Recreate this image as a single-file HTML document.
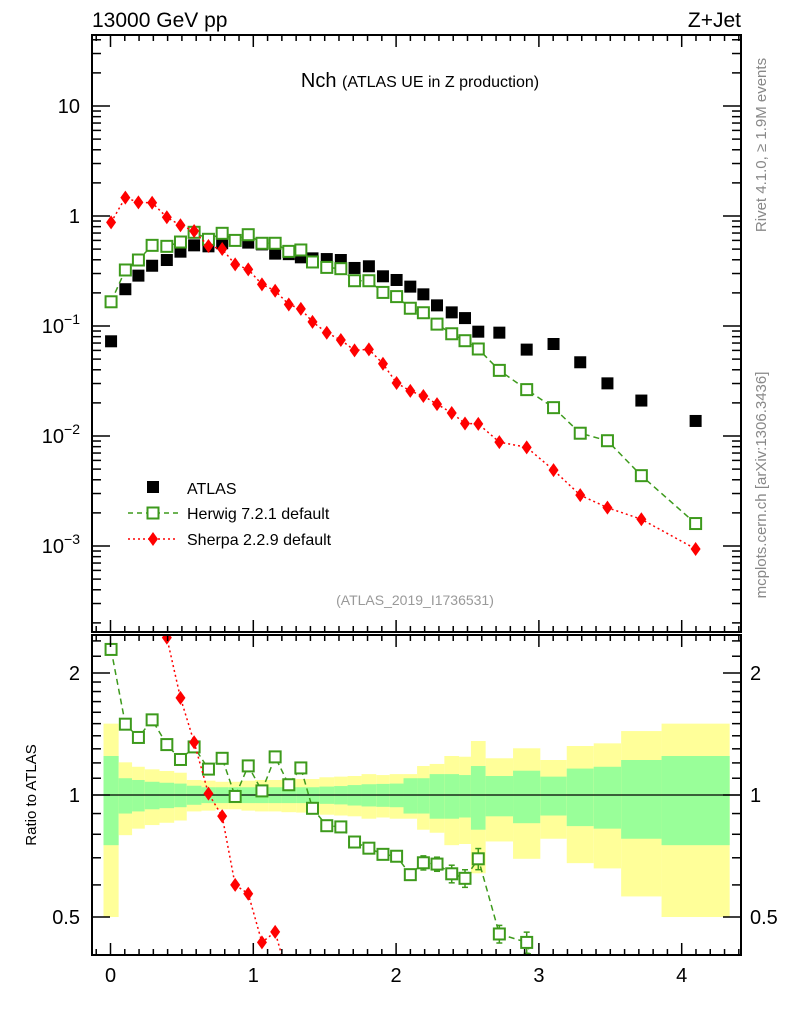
<!DOCTYPE html>
<html><head><meta charset="utf-8">
<style>
html,body{margin:0;padding:0;background:#fff;width:786px;height:1024px;overflow:hidden;}
svg{display:block;font-family:"Liberation Sans",sans-serif;}
</style></head>
<body>
<svg id="chart" width="786" height="1024" viewBox="0 0 786 1024" xmlns="http://www.w3.org/2000/svg">
<text x="92" y="27" font-size="21">13000 GeV pp</text>
<text x="741" y="27" font-size="21" text-anchor="end">Z+Jet</text>
<text x="420" y="87" font-size="20" text-anchor="middle">Nch <tspan font-size="16">(ATLAS UE in Z production)</tspan></text>
<text transform="translate(766,145) rotate(-90)" font-size="15" fill="#888" text-anchor="middle">Rivet 4.1.0, ≥ 1.9M events</text>
<text transform="translate(766,485) rotate(-90)" font-size="15" fill="#888" text-anchor="middle">mcplots.cern.ch [arXiv:1306.3436]</text>
<text x="415" y="605" font-size="14" fill="#999" text-anchor="middle">(ATLAS_2019_I1736531)</text>
<text transform="translate(36,795) rotate(-90)" font-size="15" text-anchor="middle">Ratio to ATLAS</text>
<g id="band"></g><g id="marks"></g><g id="axes"></g>
<g>
<rect x="147" y="481" width="12" height="12" fill="#000"/>
<text x="187" y="494" font-size="16">ATLAS</text>
<line x1="128" y1="513" x2="178" y2="513" stroke="#3d9a1c" stroke-width="1.5" stroke-dasharray="5,4"/>
<rect x="147.5" y="507.5" width="11" height="11" fill="#fff" stroke="#3d9a1c" stroke-width="2"/>
<text x="187" y="519" font-size="16">Herwig 7.2.1 default</text>
<line x1="128" y1="539" x2="178" y2="539" stroke="#f00" stroke-width="1.5" stroke-dasharray="2,3"/>
<path d="M153,532 L158,539 L153,546 L148,539 Z" fill="#f00"/>
<text x="187" y="545" font-size="16">Sherpa 2.2.9 default</text>
</g>
</svg>
<script>
const binEdges=[-0.049,0.057,0.151,0.24,0.343,0.446,0.534,0.637,0.735,0.829,0.917,1.012,1.109,1.197,1.30,1.366,1.463,1.566,1.66,1.758,1.861,1.955,2.052,2.147,2.235,2.338,2.441,2.524,2.627,2.819,3.01,3.195,3.384,3.576,3.859,4.336];
const atlas=[0.0726,0.216,0.287,0.353,0.398,0.474,0.541,0.53,0.565,0.605,0.573,0.552,0.455,0.45,0.421,0.412,0.406,0.398,0.337,0.349,0.283,0.262,0.228,0.194,0.154,0.133,0.118,0.0888,0.087,0.061,0.0686,0.0468,0.0301,0.021,0.0137];
const herwig=[0.166,0.323,0.398,0.541,0.53,0.58,0.711,0.614,0.696,0.6,0.676,0.565,0.565,0.477,0.491,0.382,0.341,0.332,0.258,0.258,0.202,0.185,0.145,0.132,0.104,0.085,0.0735,0.0618,0.0395,0.0264,0.0181,0.0106,0.00906,0.00436,0.0016];
const sherpa=[0.875,1.47,1.33,1.32,0.973,0.823,0.73,0.534,0.501,0.363,0.327,0.239,0.209,0.157,0.143,0.109,0.0869,0.0746,0.0601,0.0613,0.0454,0.0303,0.0257,0.0231,0.0195,0.0162,0.013,0.0129,0.0088,0.00789,0.0049,0.0029,0.00223,0.00175,0.00094];
const errTot=[0.5,0.204,0.174,0.157,0.146,0.135,0.089,0.085,0.078,0.078,0.085,0.089,0.089,0.093,0.095,0.095,0.106,0.11,0.114,0.126,0.12,0.126,0.126,0.179,0.193,0.248,0.243,0.359,0.232,0.304,0.22,0.321,0.341,0.438,0.5];
const errStat=[0.248,0.10,0.089,0.078,0.072,0.067,0.054,0.045,0.045,0.045,0.045,0.045,0.045,0.045,0.045,0.045,0.049,0.052,0.058,0.063,0.065,0.067,0.10,0.10,0.126,0.126,0.12,0.179,0.114,0.148,0.11,0.162,0.174,0.22,0.248];
const mcErr=[0.01,0.01,0.01,0.01,0.01,0.01,0.01,0.01,0.01,0.01,0.01,0.01,0.01,0.01,0.01,0.01,0.015,0.015,0.02,0.02,0.025,0.03,0.03,0.04,0.04,0.05,0.05,0.06,0.05,0.06,0.08,0.1,0.12,0.12,0.12];
const xTicks=[0,1,2,3,4];
const mainYTicks=[1,0,-1,-2,-3];
const ratioTicks=[2,1,0.5];

const NS='http://www.w3.org/2000/svg';
const L=92,R=741,MT=35,MB=632,RT=635,RB=955;
const X=v=>110.5+142.8*v;
const YM=v=>216-110*Math.log10(v);
const YR=v=>795-122*Math.log2(v);
function el(tag,attrs,parent){const e=document.createElementNS(NS,tag);for(const k in attrs)e.setAttribute(k,attrs[k]);parent.appendChild(e);return e;}
const band=document.getElementById('band'),marks=document.getElementById('marks'),axes=document.getElementById('axes');
const centers=atlas.map((_,i)=>(binEdges[i]+binEdges[i+1])/2);
const clipR=v=>Math.max(RT,Math.min(RB,v));

for(let i=0;i<atlas.length;i++){
  const x0=X(binEdges[i]),x1=X(binEdges[i+1]);
  const y=el('rect',{x:x0,width:x1-x0,y:clipR(YR(1+errTot[i])),height:clipR(YR(1-errTot[i]))-clipR(YR(1+errTot[i])),fill:'#ffff99'},band);
  
  
  const g=el('rect',{x:x0,width:x1-x0,y:clipR(YR(1+errStat[i])),height:clipR(YR(1-errStat[i]))-clipR(YR(1+errStat[i])),fill:'#99ff99'},band);
  
  
}
el('line',{x1:L,x2:R,y1:YR(1),y2:YR(1),stroke:'#000','stroke-width':1.2},band);

const defs=el('defs',{},marks);
const cp1=el('clipPath',{id:'cm'},defs);el('rect',{x:L,y:MT,width:R-L,height:MB-MT},cp1);
const cp2=el('clipPath',{id:'cr'},defs);el('rect',{x:L,y:RT,width:R-L,height:RB-RT},cp2);
const gm=el('g',{'clip-path':'url(#cm)'},marks);
const gr=el('g',{'clip-path':'url(#cr)'},marks);

function series(vals,color,dash,kind,name){
  const ptsM=vals.map((v,i)=>X(centers[i])+','+YM(v)).join(' ');
  const lm=el('polyline',{points:ptsM,fill:'none',stroke:color,'stroke-width':1.5,'stroke-dasharray':dash},gm);
  
  
  const rat=vals.map((v,i)=>v/atlas[i]);
  const ptsR=rat.map((v,i)=>X(centers[i])+','+YR(v)).join(' ');
  const lr=el('polyline',{points:ptsR,fill:'none',stroke:color,'stroke-width':1.5,'stroke-dasharray':dash},gr);
  
  
  vals.forEach((v,i)=>{
    [[gm,YM(v),YM(v*(1+mcErr[i])),YM(v*(1-mcErr[i]))],[gr,YR(rat[i]),YR(rat[i]*(1+mcErr[i])),YR(rat[i]*(1-mcErr[i]))]].forEach(([g,y,yu,yl],k)=>{
      const x=X(centers[i]);
      if(yl-yu>12){el('line',{x1:x,x2:x,y1:yu,y2:yl,stroke:color,'stroke-width':1.5},g);el('line',{x1:x-3,x2:x+3,y1:yu,y2:yu,stroke:color,'stroke-width':1.5},g);el('line',{x1:x-3,x2:x+3,y1:yl,y2:yl,stroke:color,'stroke-width':1.5},g);}
      let m;
      if(kind==='sq'){m=el('rect',{x:x-5.5,y:y-5.5,width:11,height:11,fill:'#fff',stroke:color,'stroke-width':2},g);}
      else{m=el('path',{d:`M${x},${y-7} L${x+5},${y} L${x},${y+7} L${x-5},${y} Z`,fill:color},g);}
      
      
    });
  });
}
atlas.forEach((v,i)=>{
  const r=el('rect',{x:X(centers[i])-6,y:YM(v)-6,width:12,height:12,fill:'#000'},gm);
  
  
});
series(herwig,'#3d9a1c','6,4','sq','herwig');
series(sherpa,'#ff0000','2,3','dia','sherpa');

[[MT,MB],[RT,RB]].forEach(([t,b])=>el('rect',{x:L,y:t,width:R-L,height:b-t,fill:'none',stroke:'#000','stroke-width':2},axes));
for(let v=-0.1;v<=4.41;v+=0.1){
  const vv=Math.round(v*10)/10,major=Math.abs(vv-Math.round(vv))<1e-6,len=major?12:6,x=X(vv);
  [MT,RT].forEach(t=>el('line',{x1:x,x2:x,y1:t,y2:t+len,stroke:'#000','stroke-width':1.5},axes));
  [MB,RB].forEach(b=>el('line',{x1:x,x2:x,y1:b,y2:b-len,stroke:'#000','stroke-width':1.5},axes));
}
xTicks.forEach(v=>{const t=el('text',{x:X(v),y:982,'font-size':20,'text-anchor':'middle'},axes);t.textContent=v;
  
  });
for(let e=-4;e<=1;e++){for(let m=1;m<10;m++){const v=m*Math.pow(10,e),y=YM(v);if(y<MT||y>MB)continue;const len=m===1?18:9;
  el('line',{x1:L,x2:L+len,y1:y,y2:y,stroke:'#000','stroke-width':1.5},axes);
  el('line',{x1:R,x2:R-len,y1:y,y2:y,stroke:'#000','stroke-width':1.5},axes);}}
mainYTicks.forEach(e=>{const y=YM(Math.pow(10,e));const t=el('text',{x:80,y:y+7,'font-size':20,'text-anchor':'end'},axes);
  if(e===1)t.textContent='10';else if(e===0)t.textContent='1';else{t.textContent='10';const s=el('tspan',{dy:-9,'font-size':14},t);s.textContent='−'+(-e);}
  
  });
[0.4,0.5,0.6,0.7,0.8,0.9,1,1.1,1.2,1.3,1.4,1.5,1.6,1.7,1.8,1.9,2,2.2,2.4].forEach(v=>{const y=YR(v);if(y<RT||y>RB)return;const len=(v===0.5||v===1||v===2)?18:9;
  el('line',{x1:L,x2:L+len,y1:y,y2:y,stroke:'#000','stroke-width':1.5},axes);
  el('line',{x1:R,x2:R-len,y1:y,y2:y,stroke:'#000','stroke-width':1.5},axes);});
ratioTicks.forEach(v=>{const y=YR(v);
  const t=el('text',{x:80,y:y+7,'font-size':20,'text-anchor':'end'},axes);t.textContent=v;
  
  
  const t2=el('text',{x:750,y:y+7,'font-size':20},axes);t2.textContent=v;
  
  });
</script>
</body></html>
